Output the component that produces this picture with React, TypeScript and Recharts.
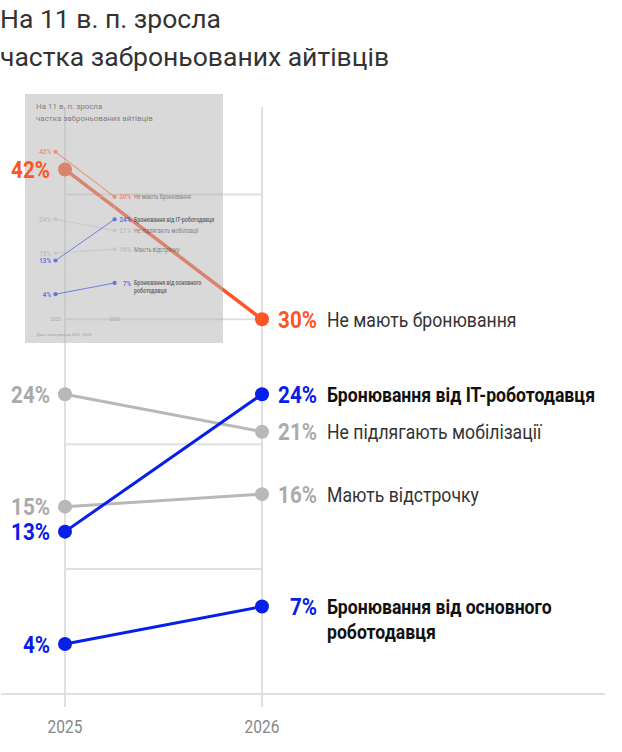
import React from 'react';
import { LineChart, Line, XAxis, YAxis, ReferenceLine, LabelList } from 'recharts';

const years = ['2025', '2026'];
const noBooking = [42, 30];
const itBooking = [13, 24];
const notSubject = [24, 21];
const deferral = [15, 16];
const mainEmployer = [4, 7];
const gridValues = [10, 20, 30, 40];

const titleLines = ['На 11 в. п. зросла', 'частка заброньованих айтівців'];
const sourceText = 'Дані: опитування DOU, 2025';

const data = years.map((year, i) => ({
  year,
  noBooking: noBooking[i],
  itBooking: itBooking[i],
  notSubject: notSubject[i],
  deferral: deferral[i],
  mainEmployer: mainEmployer[i],
}));

const ORANGE = '#ff5526';
const BLUE = '#0620e8';
const GRAY = '#b8b8b8';
const GRID = '#e0e0e0';
const FONT = 'Roboto, "Noto Sans", sans-serif';
const SQ = 0.86; // horizontal squeeze to imitate a condensed face
const SQ_NAME = 0.84;

// drawn in this order: gray first, orange last
const series = [
  { key: 'notSubject', lines: ['Не підлягають мобілізації'], color: GRAY, value: '#aaaaaa', name: '#333', bold: false, width: 3 },
  { key: 'deferral', lines: ['Мають відстрочку'], color: GRAY, value: '#aaaaaa', name: '#333', bold: false, width: 3 },
  { key: 'mainEmployer', lines: ['Бронювання від основного', 'роботодавця'], color: BLUE, value: BLUE, name: '#111', bold: true, width: 3 },
  { key: 'itBooking', lines: ['Бронювання від IT-роботодавця'], color: BLUE, value: BLUE, name: '#111', bold: true, width: 3 },
  { key: 'noBooking', lines: ['Не мають бронювання'], color: ORANGE, value: ORANGE, name: '#333', bold: false, width: 3.5 },
];

const W = 622;
const H = 752;

const makeLabel = (s: typeof series[number]) => (props: any) => {
  const { x, y, value, index } = props;
  const pct = (dx: number) => (
    <g transform={`translate(${x + dx},${y}) scale(${SQ},1)`}>
      <text textAnchor="end" dy="0.355em" fontSize={24} fontWeight={700} fill={s.value} fontFamily={FONT}>
        {value}%
      </text>
    </g>
  );
  if (index === 0) return pct(-15);
  return (
    <g>
      {pct(55)}
      <g transform={`translate(${x + 65},${y}) scale(${SQ_NAME},1)`}>
        <text fontSize={21} fontWeight={s.bold ? 700 : 400} fill={s.name} fontFamily={FONT}>
          {s.lines.map((ln, i) => (
            <tspan key={i} x={0} y={i * 25} dy="0.355em">{ln}</tspan>
          ))}
        </text>
      </g>
    </g>
  );
};

const renderTick = (props: any) => {
  const { x, y, payload } = props;
  return (
    <g transform={`translate(${x},${y + 22}) scale(${SQ},1)`}>
      <text textAnchor="middle" fontSize={18} fill="#888" fontFamily={FONT}>{payload.value}</text>
    </g>
  );
};

function SlopeChart({ layer }: { layer: 'marks' | 'labels' | 'all' }) {
  const marks = layer !== 'labels';
  const labels = layer !== 'marks';
  return (
    <LineChart width={W} height={H} data={data} margin={{ top: 107, right: 17, bottom: 0, left: 1 }}>
      <YAxis hide type="number" domain={[0, 47]} />
      <XAxis
        dataKey="year"
        scale="point"
        padding={{ left: 64, right: 343 }}
        height={58}
        interval={0}
        tickSize={13}
        tickMargin={4}
        axisLine={marks ? { stroke: GRID, strokeWidth: 2 } : false}
        tickLine={marks ? { stroke: GRID, strokeWidth: 2 } : false}
        tick={marks ? renderTick : false}
      />
      {marks && years.map((yr) => <ReferenceLine key={yr} x={yr} stroke={GRID} strokeWidth={2} />)}
      {marks &&
        gridValues.map((v) => (
          <ReferenceLine
            key={v}
            segment={[{ x: years[0], y: v }, { x: years[1], y: v }]}
            stroke={GRID}
            strokeWidth={2}
          />
        ))}
      {series.map((s) => (
        <Line
          key={s.key}
          type="linear"
          dataKey={s.key}
          stroke={marks ? s.color : 'none'}
          strokeWidth={s.width}
          dot={marks ? { r: 7, fill: s.color, stroke: 'none' } : false}
          activeDot={false}
          isAnimationActive={false}
        >
          {labels && <LabelList dataKey={s.key} content={makeLabel(s)} />}
        </Line>
      ))}
    </LineChart>
  );
}

function Title() {
  return (
    <div
      style={{
        position: 'absolute',
        left: 0,
        top: 0,
        fontFamily: FONT,
        fontSize: 26.5,
        lineHeight: '38px',
        color: '#333',
        whiteSpace: 'nowrap',
      }}
    >
      {titleLines.map((t) => (
        <div key={t}>{t}</div>
      ))}
    </div>
  );
}

export default function App() {
  return (
    <div style={{ position: 'absolute', left: 0, top: 0, width: W, height: H, background: '#fff', overflow: 'hidden' }}>
      <Title />
      <div style={{ position: 'absolute', left: 0, top: 0 }}>
        <SlopeChart layer="marks" />
      </div>

      {/* grey thumbnail overlay */}
      <div
        style={{
          position: 'absolute',
          left: 25,
          top: 94,
          width: 198,
          height: 249,
          background: 'rgba(180,180,180,0.5)',
          overflow: 'hidden',
        }}
      >
        <div
          style={{
            position: 'absolute',
            left: 10.5,
            top: 7,
            width: W,
            height: H + 60,
            transform: 'scale(0.3)',
            transformOrigin: '0 0',
            opacity: 0.55,
          }}
        >
          <Title />
          <div style={{ position: 'absolute', left: 0, top: 0 }}>
            <SlopeChart layer="all" />
          </div>
          <div style={{ position: 'absolute', left: 2, top: 770, fontFamily: FONT, fontSize: 14, color: '#777' }}>
            {sourceText}
          </div>
        </div>
      </div>

      <div style={{ position: 'absolute', left: 0, top: 0 }}>
        <SlopeChart layer="labels" />
      </div>
    </div>
  );
}
